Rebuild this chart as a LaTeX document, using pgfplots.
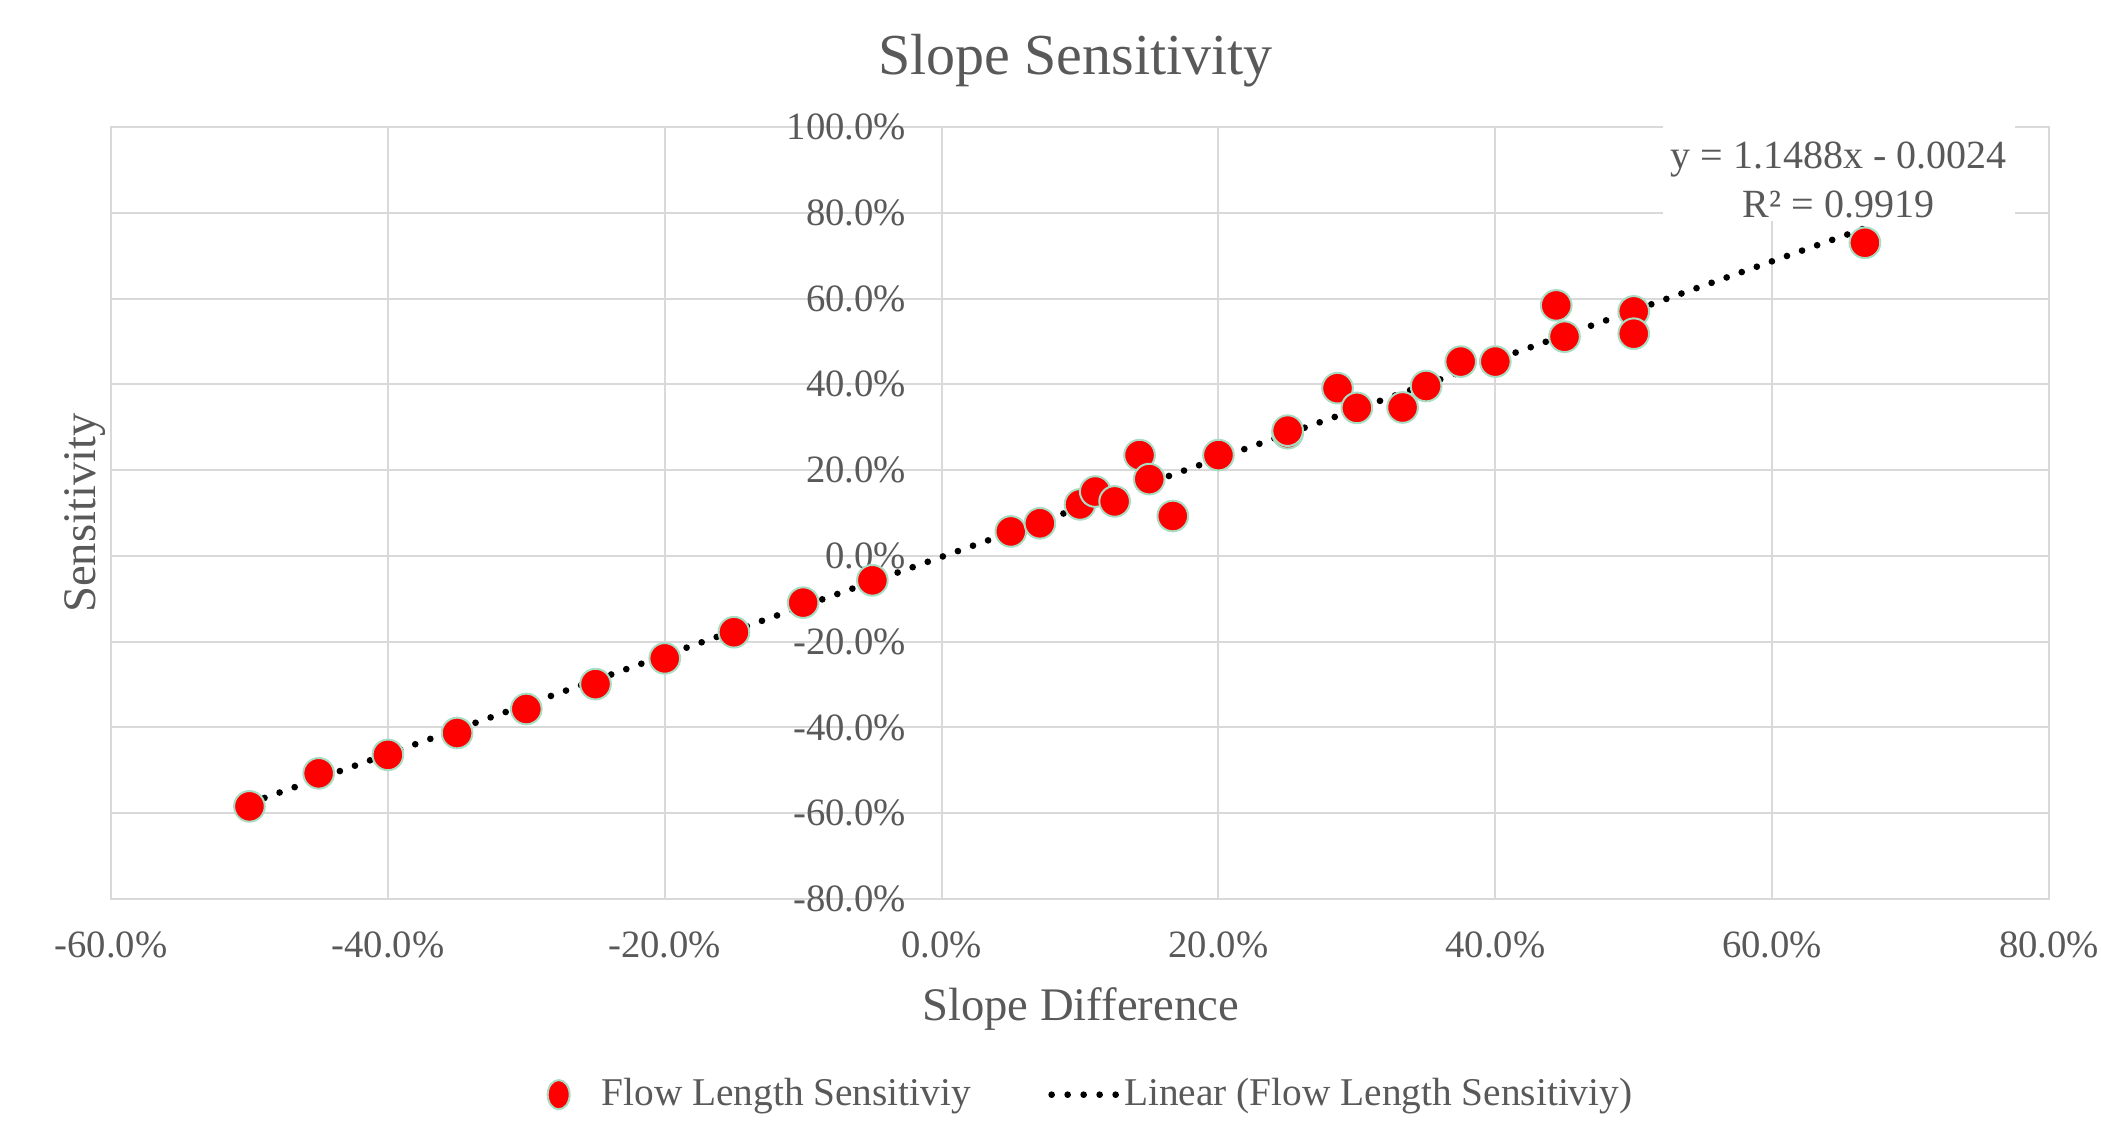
\documentclass[border=0pt]{standalone}
\usepackage{fontspec}
\setmainfont{Liberation Serif}
\usepackage{pgfplots}
\pgfplotsset{compat=1.18}
\definecolor{txt}{HTML}{595959}
\definecolor{grd}{HTML}{D9D9D9}
\definecolor{axg}{HTML}{C8C8C8}
\definecolor{edge}{HTML}{A8DDC4}
\pgfplotsset{
  dotleg/.style={legend image code/.code={\draw[##1, overlay] (0pt,0pt) -- (21.9pt,0pt); \path[draw=none,fill=none] (-1pt,0pt) -- (19.8pt,0pt);}},
  markleg/.style={legend image code/.code={\draw[fill=red, draw=edge, line width=0.6pt] (0pt,0pt) ellipse (3.3pt and 4.4pt); \path[draw=none,fill=none] (0pt,0pt) -- (10.9pt,0pt);}}
}
\begin{document}
\begin{tikzpicture}
\begin{axis}[
  scale only axis, width=581.4pt, height=231.6pt,
  xmin=-60, xmax=80, ymin=-80, ymax=100,
  xtick={-60,-40,-20,0,20,40,60,80},
  ytick={-80,-60,-40,-20,0,20,40,60,80,100},
  xticklabels={-60.0\%,-40.0\%,-20.0\%,0.0\%,20.0\%,40.0\%,60.0\%,80.0\%},
  yticklabels={-80.0\%,-60.0\%,-40.0\%,-20.0\%,0.0\%,20.0\%,40.0\%,60.0\%,80.0\%,100.0\%},
  grid=major, major grid style={grd, line width=0.6pt},
  major tick length=0pt,
  axis line style={grd, line width=0.6pt},
  tick label style={font=\fontsize{11.6}{13}\selectfont, text=txt, inner sep=0pt},
  xticklabel style={anchor=base, yshift=-17.7pt},
  yticklabel style={anchor=east, xshift=238.7pt},
  extra x ticks={0}, extra x tick labels={},
  extra x tick style={grid style={axg, line width=0.6pt}},
  clip=false,
  legend style={draw=none, fill=none, at={(rel axis cs:0.5066,-0.2535)}, anchor=center,
    font=\fontsize{11.8}{14}\selectfont, text=txt,
    /tikz/every even column/.append style={column sep=21.2pt}},
  legend columns=2, legend cell align=left,
]
\addplot[only marks, mark=*, mark size=4.6pt, mark options={fill=red, draw=edge, line width=0.6pt}, markleg] table {
x y
-50.0 -58.4
-45.0 -50.7
-40.0 -46.4
-35.0 -41.3
-30.0 -35.7
-25.0 -29.9
-20.0 -23.9
-15.0 -17.8
-10.0 -10.9
-5.0 -5.7
5.0 5.7
7.1 7.6
10.0 12.0
11.1 15.0
12.5 12.7
14.3 23.5
15.0 17.9
16.7 9.3
20.0 23.5
25.0 28.6
25.0 29.2
28.6 39.1
30.0 34.5
33.3 34.6
35.0 39.6
37.5 45.3
40.0 45.3
44.4 58.4
45.0 51.1
50.0 57.0
50.0 51.8
66.7 73.0
};
\addlegendentry{Flow Length Sensitiviy}
\addplot[black, line width=2pt, line cap=round, dash pattern=on 0pt off 4.8pt, dotleg] coordinates {(-50,-57.68) (66.7,76.39)};
\addlegendentry{Linear (Flow Length Sensitiviy)}
\fill[white] (rel axis cs:0.8008,0.878) rectangle (rel axis cs:0.9825,1.0194);
\node[font=\fontsize{12}{14}\selectfont, text=txt, anchor=base] at (rel axis cs:0.8914,0.9456) {y = 1.1488x - 0.0024};
\node[font=\fontsize{12}{14}\selectfont, text=txt, anchor=base] at (rel axis cs:0.8914,0.8828) {R² = 0.9919};
\node[font=\fontsize{17.4}{20}\selectfont, text=txt, anchor=base] at (rel axis cs:0.4977,1.0681) {Slope Sensitivity};
\node[font=\fontsize{14}{16}\selectfont, text=txt, anchor=base] at (rel axis cs:0.5003,-0.158) {Slope Difference};
\node[font=\fontsize{14}{16}\selectfont, text=txt, rotate=90, anchor=base] at (rel axis cs:-0.0078,0.5) {Sensitivity};
\coordinate (bbl) at (rel axis cs:-0.05728,-0.29793);
\coordinate (btr) at (rel axis cs:1.02683,1.16451);
\end{axis}
\pgfresetboundingbox
\path[use as bounding box] (bbl) rectangle (btr);
\end{tikzpicture}
\end{document}
